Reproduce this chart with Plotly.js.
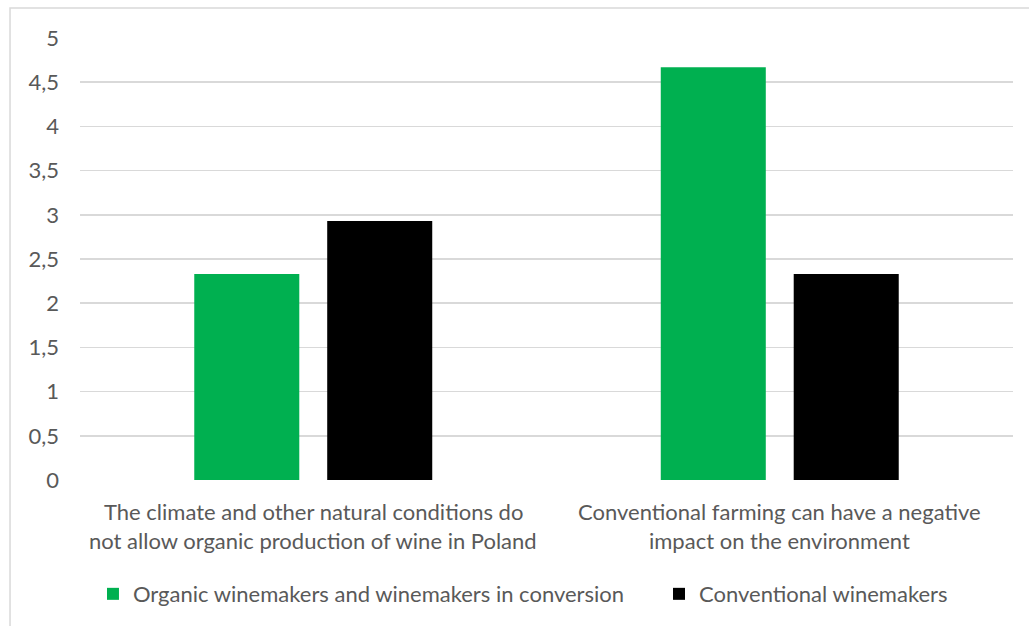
<!DOCTYPE html>
<html>
<head>
<meta charset="utf-8">
<script src="https://cdn.plot.ly/plotly-3.0.1.min.js"></script>
<style>
  html, body { margin: 0; padding: 0; background: #fff; }
  #chart { width: 1029px; height: 626px; }
</style>
</head>
<body>
<div id="chart"></div>
<script>
// Survey statements (categories) and their wrapped label lines
const categories = [
  "The climate and other natural conditions do not allow organic production of wine in Poland",
  "Conventional farming can have a negative impact on the environment"
];
const categoryLines = [
  ["The climate and other natural conditions do", "not allow organic production of wine in Poland"],
  ["Conventional farming can have a negative", "impact on the environment"]
];

// Mean agreement scores per group
const seriesNames = ["Organic winemakers and winemakers in conversion", "Conventional winemakers"];
const organicValues = [2.33, 4.67];
const conventionalValues = [2.93, 2.33];

// Value axis ticks
const yTickVals = [0, 0.5, 1, 1.5, 2, 2.5, 3, 3.5, 4, 4.5, 5];
const yTickText = ["0", "0,5", "1", "1,5", "2", "2,5", "3", "3,5", "4", "4,5", "5"];

const FONT = "Lato, 'Open Sans', sans-serif";
const FONT_SIZE = 22;
const GREY_TEXT = "#595959";
const GRID = "#d9d9d9";

const traces = [
  { type: "bar", name: seriesNames[0], x: categories, y: organicValues,
    marker: { color: "#00b050" }, legend: "legend" },
  { type: "bar", name: seriesNames[1], x: categories, y: conventionalValues,
    marker: { color: "#000000" }, legend: "legend2" }
];

// Category labels, one annotation per line below the axis
const annotations = [];
categoryLines.forEach((lines, i) => {
  lines.forEach((line, j) => {
    annotations.push({
      x: categories[i], xref: "x", y: 0, yref: "paper",
      yanchor: "middle", yshift: -31 - j * 29,
      text: line, showarrow: false,
      font: { family: FONT, size: FONT_SIZE, color: GREY_TEXT }
    });
  });
});

const legendBase = {
  orientation: "h", xanchor: "left", y: -0.258, yanchor: "middle",
  font: { family: FONT, size: FONT_SIZE, color: GREY_TEXT },
  bgcolor: "rgba(0,0,0,0)", borderwidth: 0
};

const layout = {
  width: 1029, height: 626,
  margin: { l: 80, r: 16, t: 38, b: 146, autoexpand: false },
  paper_bgcolor: "#ffffff", plot_bgcolor: "#ffffff",
  barmode: "group", bargap: 0.43, bargroupgap: 0.21,
  font: { family: FONT, size: FONT_SIZE, color: GREY_TEXT },
  xaxis: {
    type: "category", showticklabels: false, showgrid: false,
    showline: false, zeroline: false, ticks: ""
  },
  yaxis: {
    range: [0, 5], tickvals: yTickVals, ticktext: yTickText,
    showgrid: true, gridcolor: GRID, gridwidth: 1.5,
    zeroline: false, showline: false, ticks: "",
    ticklabelstandoff: 20,
    tickfont: { family: FONT, size: FONT_SIZE, color: GREY_TEXT }
  },
  showlegend: true,
  legend: Object.assign({}, legendBase, { x: 0.0139 }),
  legend2: Object.assign({}, legendBase, { x: 0.6206 }),
  annotations: annotations,
  shapes: [
    { type: "rect", xref: "paper", yref: "paper", layer: "below",
      x0: -0.075, x1: 1.2, y0: -0.5, y1: 1.068,
      line: { color: "#d9d9d9", width: 1.5 }, fillcolor: "rgba(0,0,0,0)" }
  ],
  hovermode: false
};

Plotly.newPlot("chart", traces, layout, { displayModeBar: false, staticPlot: true });
</script>
</body>
</html>
